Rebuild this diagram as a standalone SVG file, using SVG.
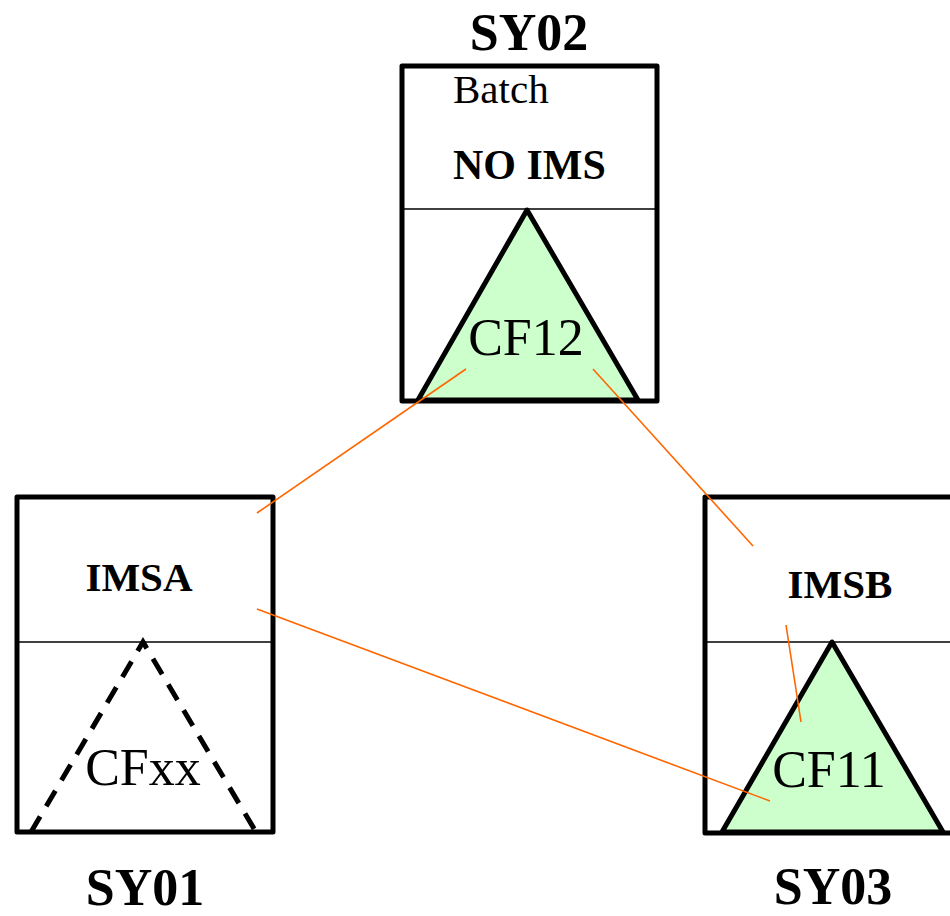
<svg xmlns="http://www.w3.org/2000/svg" width="950" height="916" viewBox="0 0 950 916">
<style>
.box{fill:#fff;stroke:#000;stroke-width:5;stroke-linejoin:round}
.div{stroke:#000;stroke-width:1.5}
.tri{fill:#ccffcc;stroke:#000;stroke-width:5;stroke-linejoin:round}
.dtri{fill:none;stroke:#000;stroke-width:5;stroke-dasharray:18 12}
.conn{stroke:#ff6600;stroke-width:1.6;fill:none}
text{font-family:"Liberation Serif","Times New Roman",serif;fill:#000}
.b{font-weight:bold}
.title{font-weight:bold;font-size:52px;text-anchor:middle}
.lbl{font-weight:bold;font-size:41px;text-anchor:middle}
.cf{font-size:52px;text-anchor:middle}
</style>
<rect width="950" height="916" fill="#fff"/>
<g id="SY02">
<text class="title" x="529" y="50">SY02</text>
<rect class="box" x="402" y="66" width="255" height="335"/>
<line class="div" x1="402" y1="209" x2="657" y2="209"/>
<text x="453" y="103" font-size="41">Batch</text>
<text class="b" x="453" y="179" font-size="42">NO IMS</text>
<polygon class="tri" points="527,210 418,400 638,400"/>
<text class="cf" x="526" y="355">CF12</text>
</g>
<g id="SY01">
<rect class="box" x="17" y="497" width="256" height="335"/>
<line class="div" x1="17" y1="642" x2="273" y2="642"/>
<text class="lbl" x="139" y="591">IMSA</text>
<polyline class="dtri" points="31,832 143,642 256,832"/>
<text class="cf" x="143" y="785">CFxx</text>
<text class="title" x="145" y="905">SY01</text>
</g>
<g id="SY03">
<rect class="box" x="705" y="497" width="260" height="336"/>
<line class="div" x1="705" y1="642" x2="965" y2="642"/>
<text class="lbl" x="840" y="598">IMSB</text>
<polygon class="tri" points="832,642 722,832 943,832"/>
<text class="cf" x="829" y="787">CF11</text>
<text class="title" x="833" y="904">SY03</text>
</g>
<g id="connectors">
<line class="conn" x1="466" y1="369" x2="257" y2="513"/>
<line class="conn" x1="593" y1="369" x2="753" y2="546"/>
<line class="conn" x1="257" y1="609" x2="770" y2="801"/>
<line class="conn" x1="786" y1="625" x2="801" y2="722"/>
</g>
</svg>
